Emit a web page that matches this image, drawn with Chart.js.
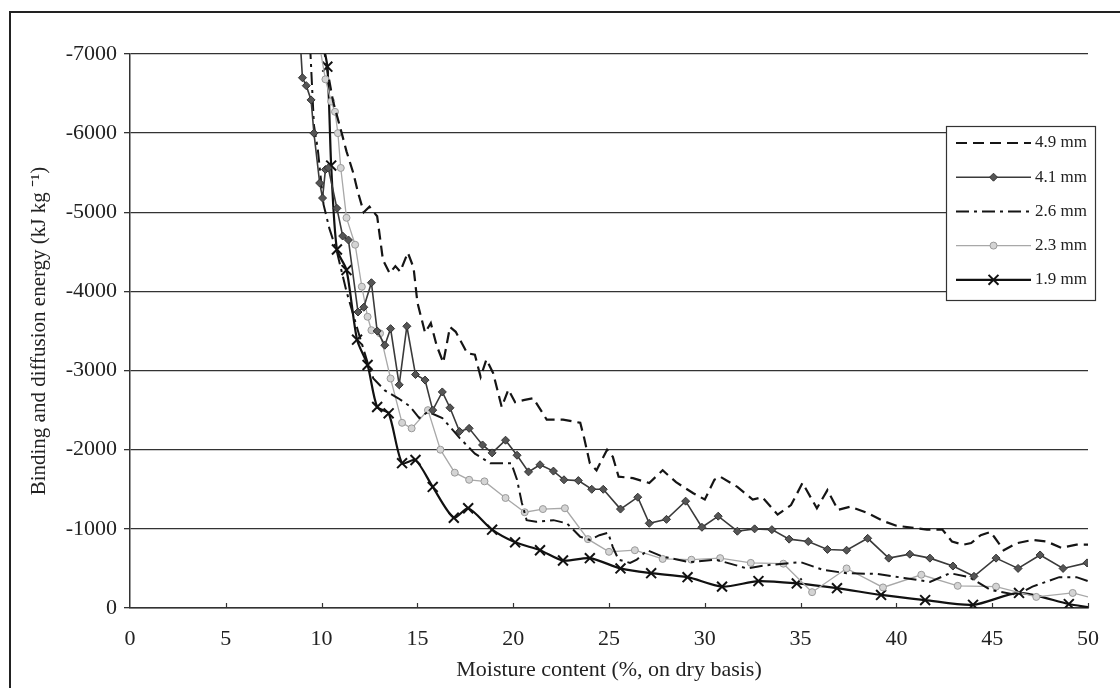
<!DOCTYPE html>
<html>
<head>
<meta charset="utf-8">
<script src="https://cdn.jsdelivr.net/npm/chart.js@4"></script>
<style>
  html, body { margin: 0; padding: 0; background: #fff; }
  #wrap { width: 1120px; height: 688px; }
</style>
</head>
<body>
<div id="wrap"><canvas id="chart" width="1120" height="688"></canvas></div>
<script>
'use strict';

// ── Data ────────────────────────────────────────────────────────────────────
var labels49 = '4.9 mm', labels41 = '4.1 mm', labels26 = '2.6 mm', labels23 = '2.3 mm', labels19 = '1.9 mm';

var x49 = [10.1, 10.3, 10.6, 11.05, 11.3, 11.65, 11.9, 12.2, 12.5, 12.9, 13.2, 13.55, 13.85, 14.1, 14.5, 14.8, 15.0, 15.4, 15.7, 16.0, 16.35, 16.7, 17.0, 17.6, 18.0, 18.3, 18.6, 18.95, 19.4, 19.75, 20.1, 20.6, 21.05, 21.75, 22.6, 23.5, 23.7, 24.0, 24.35, 24.9, 25.2, 25.5, 26.25, 27.1, 27.8, 28.5, 29.4, 30.0, 30.5, 30.8, 31.7, 32.5, 33.0, 33.8, 34.5, 35.1, 35.85, 36.4, 36.95, 37.6, 38.5, 39.3, 40.0, 41.6, 42.4, 42.9, 43.5, 43.9, 44.4, 44.9, 45.1, 45.6, 46.3, 47.1, 47.85, 48.6, 49.4, 50.0];
var y49 = [-7100, -6800, -6400, -6000, -5770, -5500, -5250, -5000, -5070, -4950, -4400, -4230, -4320, -4250, -4490, -4300, -3860, -3480, -3600, -3320, -3100, -3550, -3490, -3220, -3200, -2920, -3140, -2970, -2540, -2760, -2600, -2630, -2650, -2380, -2380, -2340, -2150, -1830, -1740, -2000, -1910, -1660, -1640, -1580, -1740, -1590, -1450, -1370, -1620, -1660, -1530, -1370, -1400, -1180, -1300, -1580, -1260, -1490, -1240, -1280, -1200, -1100, -1040, -990, -990, -840, -800, -820, -920, -960, -900, -730, -820, -860, -840, -760, -800, -800];

var x41 = [8.9, 9.0, 9.2, 9.45, 9.6, 9.9, 10.05, 10.2, 10.35, 10.8, 11.1, 11.4, 11.9, 12.2, 12.6, 12.9, 13.3, 13.6, 14.05, 14.45, 14.9, 15.4, 15.8, 16.3, 16.7, 17.2, 17.7, 18.4, 18.9, 19.6, 20.2, 20.8, 21.4, 22.1, 22.65, 23.4, 24.1, 24.7, 25.6, 26.5, 27.1, 28.0, 29.0, 29.85, 30.7, 31.7, 32.6, 33.5, 34.4, 35.4, 36.4, 37.4, 38.5, 39.6, 40.7, 41.75, 42.95, 44.05, 45.2, 46.35, 47.5, 48.7, 49.95];
var y41 = [-7100, -6700, -6600, -6420, -6000, -5370, -5180, -5540, -5560, -5050, -4700, -4650, -3740, -3800, -4110, -3500, -3320, -3530, -2820, -3560, -2950, -2880, -2500, -2730, -2530, -2230, -2270, -2060, -1960, -2120, -1930, -1720, -1810, -1730, -1620, -1610, -1500, -1500, -1250, -1400, -1070, -1120, -1350, -1020, -1160, -970, -1000, -990, -870, -840, -740, -730, -880, -630, -680, -630, -530, -400, -630, -500, -670, -500, -570];

var x26 = [9.4, 9.6, 9.8, 10.1, 10.4, 10.8, 11.3, 11.9, 12.4, 12.7, 13.3, 14.0, 14.6, 15.1, 15.55, 16.3, 17.2, 18.0, 18.8, 19.9, 20.2, 20.45, 20.7, 21.2, 22.1, 22.8, 23.5, 24.0, 24.5, 24.95, 25.2, 25.5, 26.1, 26.45, 27.0, 27.8, 29.2, 30.6, 32.2, 33.2, 35.0, 36.2, 37.4, 39.0, 40.4, 41.75, 42.8, 43.8, 44.9, 46.3, 47.1, 48.5, 49.4, 50.0];
var y26 = [-7100, -6100, -5800, -5100, -4800, -4500, -4000, -3500, -3100, -2900, -2750, -2650, -2550, -2400, -2480, -2400, -2150, -1950, -1830, -1830, -1620, -1330, -1110, -1090, -1110, -1070, -900, -860, -920, -950, -770, -610, -570, -610, -730, -650, -580, -610, -500, -540, -580, -480, -440, -430, -380, -330, -440, -390, -230, -165, -270, -390, -390, -340];

var x23 = [9.9, 10.2, 10.5, 10.7, 10.85, 11.0, 11.3, 11.75, 12.1, 12.4, 12.6, 13.05, 13.6, 14.2, 14.7, 15.55, 16.2, 16.95, 17.7, 18.5, 19.6, 20.6, 21.55, 22.7, 23.9, 25.0, 26.35, 27.8, 29.3, 30.8, 32.4, 34.1, 35.6, 37.4, 39.3, 41.3, 43.2, 45.2, 47.3, 49.2, 50.0];
var y23 = [-7100, -6680, -6400, -6270, -6000, -5560, -4930, -4590, -4060, -3680, -3510, -3470, -2900, -2340, -2270, -2500, -2000, -1710, -1620, -1600, -1390, -1210, -1250, -1260, -870, -710, -730, -620, -610, -630, -570, -560, -200, -500, -260, -420, -280, -270, -140, -190, -140];

var x19 = [10.0, 10.3, 10.5, 10.8, 11.3, 11.85, 12.4, 12.9, 13.5, 14.2, 14.9, 15.8, 16.9, 17.65, 18.9, 20.1, 21.4, 22.6, 24.0, 25.6, 27.2, 29.1, 30.9, 32.8, 34.8, 36.9, 39.2, 41.5, 44.0, 46.4, 49.0, 50.0];
var y19 = [-7200, -6840, -5590, -4530, -4270, -3390, -3070, -2540, -2460, -1830, -1870, -1530, -1140, -1260, -990, -830, -730, -600, -630, -500, -440, -390, -270, -340, -310, -250, -165, -100, -40, -190, -50, -10];

var xTicks = [0, 5, 10, 15, 20, 25, 30, 35, 40, 45, 50];

var FONT = "'Liberation Serif', 'Times New Roman', serif";

function pairs(xs, ys) {
  return xs.map(function (x, i) { return { x: x, y: ys[i] }; });
}
function innerMarkers(r) {
  return function (ctx) {
    var n = ctx.dataset.data.length;
    return (ctx.dataIndex === 0 || ctx.dataIndex === n - 1) ? 0 : r;
  };
}

// ── Plugins: outer frame, inward x ticks, boxed legend ──────────────────────
var framePlugin = {
  id: 'frame',
  beforeDraw: function (chart) {
    var ctx = chart.ctx;
    ctx.save();
    ctx.fillStyle = '#fff';
    ctx.fillRect(0, 0, chart.width, chart.height);
    ctx.strokeStyle = '#222';
    ctx.lineWidth = 2;
    ctx.strokeRect(10, 12, 1200, 800);
    ctx.restore();
  },
  afterDraw: function (chart) {
    var ctx = chart.ctx, xs = chart.scales.x, y0 = chart.chartArea.bottom;
    ctx.save();
    ctx.strokeStyle = '#333';
    ctx.lineWidth = 1.2;
    xTicks.forEach(function (v) {
      if (v === 0) return;
      var px = Math.round(xs.getPixelForValue(v)) + 0.5;
      ctx.beginPath();
      ctx.moveTo(px, y0);
      ctx.lineTo(px, y0 - 5);
      ctx.stroke();
    });
    ctx.restore();
  }
};

var legendBox = {
  id: 'legendBox',
  afterDraw: function (chart) {
    var ctx = chart.ctx;
    var bx = 946, by = 126, bw = 149, bh = 174;
    ctx.save();
    ctx.fillStyle = '#fff';
    ctx.fillRect(bx, by, bw, bh);
    ctx.strokeStyle = '#333';
    ctx.lineWidth = 1.2;
    ctx.strokeRect(bx + 0.5, by + 0.5, bw, bh);
    chart.data.datasets.forEach(function (ds, i) {
      var y = 143 + i * 34.2;
      ctx.save();
      ctx.strokeStyle = ds.borderColor;
      ctx.lineWidth = ds.borderWidth;
      ctx.setLineDash(ds.borderDash || []);
      ctx.beginPath();
      ctx.moveTo(956, y);
      ctx.lineTo(1031, y);
      ctx.stroke();
      ctx.restore();
      if (ds.legendMarker) {
        ctx.save();
        ctx.fillStyle = ds.pointBackgroundColor;
        ctx.strokeStyle = ds.pointBorderColor;
        ctx.lineWidth = ds.pointBorderWidth;
        Chart.helpers.drawPoint(ctx, {
          pointStyle: ds.pointStyle, rotation: 0,
          radius: ds.legendMarker, borderWidth: ds.pointBorderWidth
        }, 993.5, y);
        ctx.restore();
      }
      ctx.fillStyle = '#222';
      ctx.font = '17px ' + FONT;
      ctx.textBaseline = 'middle';
      ctx.textAlign = 'left';
      ctx.fillText(ds.label, 1035, y);
    });
    ctx.restore();
  }
};

// ── Chart ───────────────────────────────────────────────────────────────────
new Chart(document.getElementById('chart').getContext('2d'), {
  type: 'line',
  data: {
    datasets: [{
      label: labels49,
      data: pairs(x49, y49),
      borderColor: '#151515',
      borderWidth: 2.2,
      borderDash: [11, 6],
      pointRadius: 0,
      tension: 0
    }, {
      label: labels41,
      data: pairs(x41, y41),
      borderColor: '#3a3a3a',
      borderWidth: 1.6,
      pointStyle: 'rectRot',
      pointRadius: 4,
      pointBackgroundColor: '#555',
      pointBorderColor: '#333',
      pointBorderWidth: 1,
      legendMarker: 4,
      tension: 0
    }, {
      label: labels26,
      data: pairs(x26, y26),
      borderColor: '#151515',
      borderWidth: 2,
      borderDash: [13, 5, 3, 5],
      pointRadius: 0,
      tension: 0
    }, {
      label: labels23,
      data: pairs(x23, y23),
      borderColor: '#a8a8a8',
      borderWidth: 1.3,
      pointStyle: 'circle',
      pointRadius: innerMarkers(3.5),
      pointBackgroundColor: '#d4d4d4',
      pointBorderColor: '#9a9a9a',
      pointBorderWidth: 1,
      legendMarker: 3.5,
      tension: 0
    }, {
      label: labels19,
      data: pairs(x19, y19),
      borderColor: '#111',
      borderWidth: 2.2,
      pointStyle: 'crossRot',
      pointRadius: innerMarkers(7),
      pointBackgroundColor: '#111',
      pointBorderColor: '#111',
      pointBorderWidth: 2,
      legendMarker: 7,
      tension: 0.25
    }]
  },
  options: {
    responsive: false,
    animation: false,
    layout: { padding: { left: 12, right: 32, top: 54, bottom: 0 } },
    plugins: {
      legend: { display: false },
      tooltip: { enabled: false }
    },
    scales: {
      x: {
        type: 'linear',
        min: 0,
        max: 50,
        afterBuildTicks: function (s) {
          s.ticks = xTicks.map(function (v) { return { value: v }; });
        },
        afterFit: function (s) { s.height = 80; },
        grid: { display: false, drawTicks: false },
        border: { display: true, color: '#333', width: 1.5 },
        ticks: {
          padding: 18,
          maxRotation: 0,
          color: '#222',
          font: { family: FONT, size: 22 },
          callback: function (v) { return String(v); }
        },
        title: {
          display: true,
          text: 'Moisture content (%, on dry basis)',
          color: '#222',
          font: { family: FONT, size: 22 },
          padding: { top: 0, bottom: 5 }
        }
      },
      y: {
        type: 'linear',
        min: -7000,
        max: 0,
        reverse: true,
        afterFit: function (s) { s.width = 130 - 12; },
        grid: { color: '#333', lineWidth: 1.3, tickLength: 6 },
        border: { display: true, color: '#333', width: 1.5 },
        ticks: {
          stepSize: 1000,
          padding: 7,
          color: '#222',
          font: { family: FONT, size: 22 },
          callback: function (v) { return String(v); }
        },
        title: {
          display: true,
          text: 'Binding and diffusion energy (kJ kg \u207B\u00B9)',
          color: '#222',
          font: { family: FONT, size: 21 },
          padding: { top: 15, bottom: 0 }
        }
      }
    }
  },
  plugins: [framePlugin, legendBox]
});
</script>
</body>
</html>
